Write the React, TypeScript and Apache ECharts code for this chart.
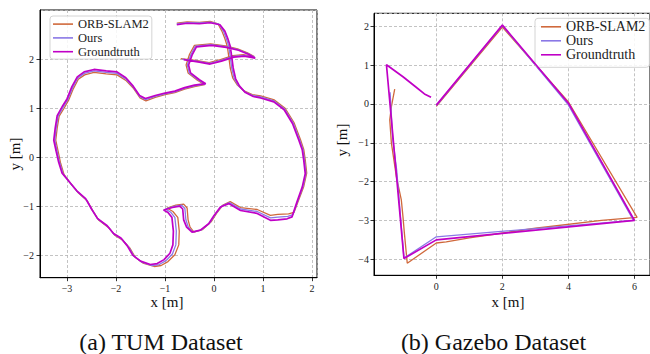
import React, { useEffect, useRef } from "react";
import * as echarts from "echarts";

// ---------- data ----------
const seriesNames = ["ORB-SLAM2", "Ours", "Groundtruth"];

const tumGroundtruth: number[][] = [
  [-0.76, 2.70], [-0.55, 2.73], [-0.30, 2.72], [-0.08, 2.74], [0.12, 2.70], [0.22, 2.57], [0.28, 2.42],
  [0.33, 2.26], [0.36, 2.05], [0.39, 1.82], [0.44, 1.60], [0.52, 1.45], [0.64, 1.32], [0.80, 1.24],
  [0.95, 1.21], [1.22, 1.13], [1.43, 0.97], [1.60, 0.69], [1.73, 0.35], [1.80, 0.15], [1.83, -0.06],
  [1.86, -0.33], [1.80, -0.60], [1.69, -0.91], [1.59, -1.21], [1.49, -1.25], [1.30, -1.27], [1.15, -1.28],
  [0.88, -1.14], [0.54, -1.08], [0.30, -0.94], [0.13, -1.01], [0.00, -1.18], [-0.11, -1.35], [-0.28, -1.48],
  [-0.45, -1.52], [-0.56, -1.42], [-0.62, -1.27], [-0.64, -1.05], [-0.70, -0.99], [-0.85, -1.02], [-1.03, -1.07],
  [-0.94, -1.12], [-0.86, -1.22], [-0.83, -1.50], [-0.84, -1.78], [-0.90, -1.95], [-1.02, -2.08], [-1.16, -2.16],
  [-1.30, -2.18], [-1.50, -2.11], [-1.66, -1.99], [-1.77, -1.80], [-1.90, -1.64], [-2.05, -1.55], [-2.18, -1.39],
  [-2.38, -1.24], [-2.50, -1.05], [-2.62, -0.84], [-2.80, -0.68], [-2.95, -0.50], [-3.10, -0.32], [-3.17, -0.10],
  [-3.22, 0.12], [-3.27, 0.35], [-3.24, 0.60], [-3.20, 0.85], [-3.10, 1.03], [-3.00, 1.19], [-2.90, 1.44],
  [-2.79, 1.64], [-2.65, 1.74], [-2.45, 1.79], [-2.20, 1.76], [-1.98, 1.74], [-1.80, 1.62], [-1.65, 1.45],
  [-1.52, 1.26], [-1.40, 1.20], [-1.20, 1.26], [-1.00, 1.31], [-0.80, 1.35], [-0.60, 1.42], [-0.40, 1.47],
  [-0.17, 1.50], [-0.30, 1.58], [-0.48, 1.72], [-0.52, 1.88], [-0.45, 2.08], [-0.36, 2.25], [-0.05, 2.28],
  [0.25, 2.24], [0.50, 2.18], [0.70, 2.10], [0.84, 2.02], [0.62, 2.06], [0.40, 2.04], [0.15, 1.96],
  [-0.08, 1.90], [-0.30, 1.94], [-0.62, 1.99],
];

const tumOrb: number[][] = [
  [-0.76, 2.73], [-0.55, 2.76], [-0.30, 2.75], [-0.08, 2.77], [0.08, 2.72], [0.16, 2.57], [0.22, 2.42],
  [0.27, 2.26], [0.30, 2.05], [0.33, 1.82], [0.38, 1.62], [0.47, 1.48], [0.60, 1.36], [0.78, 1.28],
  [0.95, 1.25], [1.23, 1.17], [1.45, 1.00], [1.63, 0.71], [1.76, 0.37], [1.83, 0.16], [1.86, -0.05],
  [1.89, -0.32], [1.83, -0.59], [1.72, -0.88], [1.63, -1.12], [1.52, -1.15], [1.30, -1.16], [1.15, -1.18],
  [0.88, -1.06], [0.54, -1.02], [0.33, -0.90], [0.18, -0.97], [0.05, -1.14], [-0.06, -1.31], [-0.24, -1.47],
  [-0.41, -1.52], [-0.49, -1.42], [-0.53, -1.27], [-0.55, -1.03], [-0.62, -0.95], [-0.78, -0.97], [-0.96, -1.03],
  [-0.84, -1.10], [-0.74, -1.22], [-0.71, -1.50], [-0.72, -1.78], [-0.80, -1.98], [-0.94, -2.12], [-1.08, -2.20],
  [-1.22, -2.22], [-1.45, -2.15], [-1.61, -2.03], [-1.72, -1.84], [-1.87, -1.68], [-2.02, -1.59], [-2.15, -1.43],
  [-2.35, -1.28], [-2.47, -1.09], [-2.59, -0.88], [-2.77, -0.72], [-2.92, -0.54], [-3.06, -0.35], [-3.13, -0.12],
  [-3.18, 0.12], [-3.23, 0.35], [-3.20, 0.60], [-3.16, 0.84], [-3.06, 1.00], [-2.97, 1.16], [-2.87, 1.40],
  [-2.77, 1.59], [-2.64, 1.68], [-2.45, 1.73], [-2.20, 1.70], [-1.98, 1.68], [-1.79, 1.56], [-1.64, 1.40],
  [-1.51, 1.21], [-1.39, 1.15], [-1.20, 1.22], [-1.00, 1.28], [-0.80, 1.32], [-0.60, 1.39], [-0.40, 1.44],
  [-0.19, 1.48], [-0.34, 1.57], [-0.53, 1.72], [-0.57, 1.88], [-0.50, 2.10], [-0.40, 2.28], [-0.07, 2.31],
  [0.23, 2.27], [0.48, 2.21], [0.68, 2.13], [0.82, 2.05], [0.60, 2.09], [0.38, 2.07], [0.13, 1.99],
  [-0.10, 1.93], [-0.34, 1.97], [-0.68, 2.01],
];

const tumOurs: number[][] = [
  [-0.76, 2.715], [-0.55, 2.745], [-0.30, 2.735], [-0.08, 2.755], [0.10, 2.71], [0.19, 2.57], [0.25, 2.42],
  [0.30, 2.26], [0.33, 2.05], [0.36, 1.82], [0.41, 1.61], [0.495, 1.465], [0.62, 1.34], [0.79, 1.26],
  [0.95, 1.23], [1.225, 1.15], [1.44, 0.985], [1.615, 0.70], [1.745, 0.36], [1.815, 0.155], [1.845, -0.055],
  [1.875, -0.325], [1.815, -0.595], [1.705, -0.895], [1.61, -1.165], [1.505, -1.20], [1.30, -1.215], [1.15, -1.23],
  [0.88, -1.10], [0.54, -1.05], [0.315, -0.92], [0.155, -0.99], [0.025, -1.16], [-0.085, -1.33], [-0.26, -1.475],
  [-0.43, -1.52], [-0.525, -1.42], [-0.575, -1.27], [-0.595, -1.04], [-0.66, -0.97], [-0.815, -0.995], [-0.995, -1.05],
  [-0.89, -1.11], [-0.80, -1.22], [-0.77, -1.50], [-0.78, -1.78], [-0.85, -1.965], [-0.98, -2.10], [-1.12, -2.18],
  [-1.26, -2.20], [-1.475, -2.13], [-1.635, -2.01], [-1.745, -1.82], [-1.885, -1.66], [-2.035, -1.57], [-2.165, -1.41],
  [-2.365, -1.26], [-2.485, -1.07], [-2.605, -0.86], [-2.785, -0.70], [-2.935, -0.52], [-3.08, -0.335], [-3.15, -0.11],
  [-3.20, 0.12], [-3.25, 0.35], [-3.22, 0.60], [-3.18, 0.845], [-3.08, 1.015], [-2.985, 1.175], [-2.885, 1.42],
  [-2.78, 1.615], [-2.645, 1.71], [-2.45, 1.76], [-2.20, 1.73], [-1.98, 1.71], [-1.795, 1.59], [-1.645, 1.425],
  [-1.515, 1.235], [-1.395, 1.175], [-1.20, 1.24], [-1.00, 1.295], [-0.80, 1.335], [-0.60, 1.405], [-0.40, 1.455],
  [-0.18, 1.49], [-0.32, 1.575], [-0.505, 1.72], [-0.545, 1.88], [-0.475, 2.09], [-0.38, 2.265], [-0.06, 2.295],
  [0.24, 2.255], [0.49, 2.195], [0.69, 2.115], [0.83, 2.035], [0.61, 2.075], [0.39, 2.055], [0.14, 1.975],
  [-0.09, 1.915], [-0.32, 1.955], [-0.65, 2.00],
];

const gazeboGroundtruth: number[][] = [
  [0.0, -0.03], [2.0, 2.03], [4.0, 0.02], [6.0, -3.0], [0.0, -3.5], [-0.98, -3.98],
  [-1.51, 1.01], [-1.01, 0.70], [-0.61, 0.43], [-0.36, 0.26], [-0.16, 0.17],
];

const gazeboOrb: number[][] = [
  [0.0, -0.06], [2.0, 1.98], [4.0, 0.05], [6.08, -2.92], [5.0, -3.0], [3.0, -3.2], [1.0, -3.45],
  [0.3, -3.55], [0.0, -3.58], [-0.88, -4.1], [-0.97, -3.3], [-1.01, -2.9], [-1.06, -2.47],
  [-1.21, -1.87], [-1.36, -1.01], [-1.41, -0.41], [-1.36, -0.07], [-1.26, 0.38],
];

const gazeboOurs: number[][] = [
  [0.0, -0.04], [2.0, 2.02], [3.98, 0.0], [5.97, -3.0], [0.0, -3.42], [-0.98, -3.97],
  [-1.2, -1.7], [-1.32, -0.9], [-1.40, 0.3],
];

// ---------- styles ----------
const colors = ["#d0693c", "#8a78e6", "#c000c6"];
const widths = [1.3, 1.3, 1.7];
const FONT = "'Liberation Serif', 'Times New Roman', serif";

const fmt = (v: number) => String(v).replace("-", "\u2212");

function axisCommon(min: number, max: number, iv: number, labelMargin: number) {
  return {
    type: "value" as const,
    min,
    max,
    minInterval: iv,
    maxInterval: iv,
    axisLine: { show: true, onZero: false, lineStyle: { color: "#000", width: 1 } },
    axisTick: { show: true, inside: false, length: 3.5, lineStyle: { color: "#000", width: 0.8 } },
    axisLabel: {
      show: true,
      margin: labelMargin,
      showMinLabel: false,
      showMaxLabel: false,
      fontFamily: FONT,
      fontSize: 10,
      color: "#222",
      formatter: fmt,
    },
    splitLine: { show: true, lineStyle: { color: "#b4b4b4", width: 0.8, type: [3, 2] } },
  };
}

function lineSeries(idx: number, data: number[][], k: number) {
  return {
    type: "line" as const,
    name: seriesNames[k],
    xAxisIndex: idx,
    yAxisIndex: idx,
    data,
    symbol: "none",
    showSymbol: false,
    color: colors[k],
    lineStyle: { color: colors[k], width: widths[k] },
    z: 2 + k,
  };
}

function legendCfg(left: number, top: number, fontSize: number, lh: number, padding: number[]) {
  return {
    left,
    top,
    orient: "vertical" as const,
    data: seriesNames,
    icon: "rect",
    itemWidth: 20,
    itemHeight: 1.6,
    itemGap: 0,
    padding,
    selectedMode: false,
    backgroundColor: "rgba(255,255,255,0.85)",
    borderColor: "#d4d4d4",
    borderWidth: 1,
    borderRadius: 3,
    textStyle: { fontFamily: FONT, fontSize, color: "#222", lineHeight: lh },
  };
}

function textEl(text: string, x: number, y: number, size: number, rotation = 0) {
  return {
    type: "text" as const,
    x,
    y,
    rotation,
    style: {
      text,
      fontFamily: FONT,
      fontSize: size,
      fill: "#111",
      textAlign: "center",
      textVerticalAlign: "middle",
    },
  };
}

export default function App() {
  const ref = useRef<HTMLDivElement>(null);
  useEffect(() => {
    if (!ref.current) return;
    const chart = echarts.init(ref.current, undefined, { renderer: "svg", width: 650, height: 354 });
    chart.setOption({
      animation: false,
      backgroundColor: "#fff",
      textStyle: { fontFamily: FONT },
      grid: [
        { left: 40, top: 10, width: 277, height: 267.7, show: true, borderColor: "#000", borderWidth: 1, containLabel: false },
        { left: 374, top: 13.3, width: 279, height: 262, show: true, borderColor: "#000", borderWidth: 1, containLabel: false },
      ],
      xAxis: [
        { ...axisCommon(-3.551, 2.10, 1, 6), gridIndex: 0 },
        { ...axisCommon(-1.887, 6.47, 2, 6), gridIndex: 1 },
      ],
      yAxis: [
        { ...axisCommon(-2.448, 3.0, 1, 6), gridIndex: 0 },
        { ...axisCommon(-4.412, 2.335, 1, 5), gridIndex: 1 },
      ],
      legend: [
        legendCfg(50, 16, 12.5, 13.8, [1.2, 3, 0.5, 3]),
        legendCfg(535, 18.3, 14, 13.8, [1.5, 4, 5.5, 6]),
      ],
      series: [
        lineSeries(0, tumOrb, 0),
        lineSeries(0, tumOurs, 1),
        lineSeries(0, tumGroundtruth, 2),
        lineSeries(1, gazeboOrb, 0),
        lineSeries(1, gazeboOurs, 1),
        lineSeries(1, gazeboGroundtruth, 2),
      ],
      graphic: [
        textEl("x [m]", 167, 301.7, 15),
        textEl("x [m]", 508, 301.7, 15),
        textEl("y [m]", 15, 154, 15, Math.PI / 2),
        textEl("y [m]", 341.7, 140, 15, Math.PI / 2),
        textEl("(a) TUM Dataset", 161, 341.7, 24),
        textEl("(b) Gazebo Dataset", 493.5, 341.7, 24),
      ],
    });
    return () => chart.dispose();
  }, []);
  return (
    <div
      ref={ref}
      style={{ position: "fixed", left: 0, top: 0, width: 650, height: 354, overflow: "hidden" }}
    />
  );
}
